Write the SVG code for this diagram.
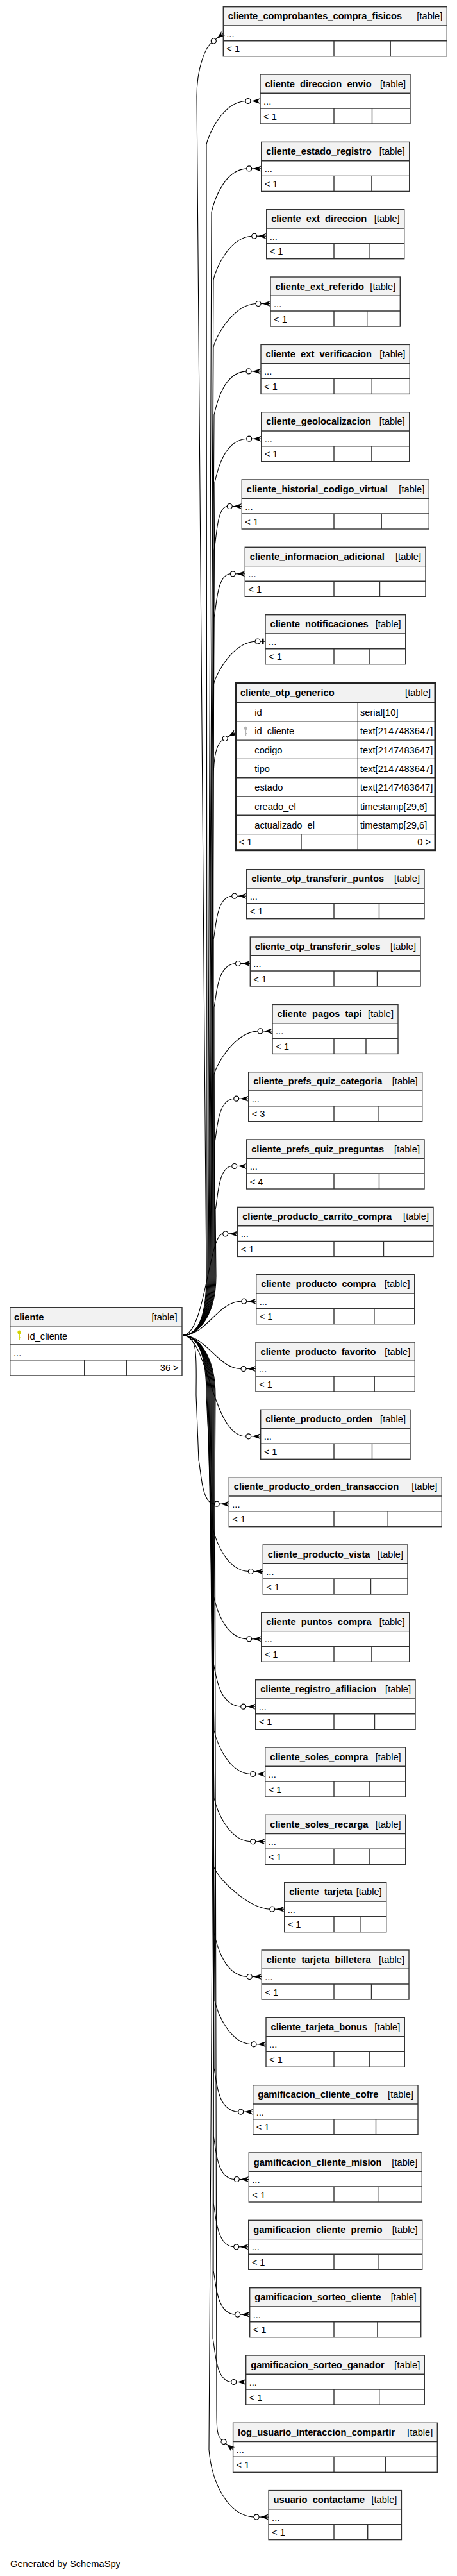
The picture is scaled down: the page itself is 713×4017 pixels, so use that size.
<svg xmlns="http://www.w3.org/2000/svg" width="713" height="4017" viewBox="0 0 713 4017">
<style>
.hd{fill:#f2f2f2}
.ob{fill:none;stroke:#333;stroke-width:1.4}
.ln{fill:none;stroke:#333;stroke-width:1.4}
.tt{font-family:"Liberation Sans",Arial,sans-serif;font-size:14.67px;font-weight:bold;fill:#000}
.tg{font-family:"Liberation Sans",Arial,sans-serif;font-size:14.67px;fill:#000;text-anchor:end}
.tx{font-family:"Liberation Sans",Arial,sans-serif;font-size:14.67px;fill:#000}
.ed{fill:none;stroke:#000;stroke-width:1.1}
</style>
<defs>
<g id="crow"><path d="M-15,0H0" stroke="#000" stroke-width="1.1"/><circle cx="-19" cy="0" r="4" fill="#fff" stroke="#000" stroke-width="1.2"/><path d="M-13,0L0,-4.5L-4,0L0,4.5Z" fill="#000"/></g>
<g id="tee"><path d="M-8,0H0" stroke="#000" stroke-width="1.1"/><circle cx="-12" cy="0" r="4" fill="#fff" stroke="#000" stroke-width="1.2"/><rect x="-5.5" y="-4.5" width="3" height="9" fill="#000"/></g>
</defs>
<rect width="713" height="4017" fill="#fff"/>
<g id="connectors">
<path class="ed" d="M285,2082.5 C310,2082.5 322,2050 322,1990 L307,150 C307,105 320.7,73.8 330.2,66.4"/>
<path class="ed" d="M285,2082.5 C310,2082.5 323,2050 323,1990 L322,225.5 C326,207.5 348,159.5 383,157.5"/>
<path class="ed" d="M285,2082.5 C310,2082.5 324,2050 324,1990 L330,330.9 C334,312.9 349.7,264.9 384.7,262.9"/>
<path class="ed" d="M285,2082.5 C310,2082.5 325,2050 325,1990 L333,436.2 C337,418.2 357.7,370.2 392.7,368.2"/>
<path class="ed" d="M285,2082.5 C310,2082.5 326,2050 326,1990 L333,541.5 C337,523.5 364,475.5 399,473.5"/>
<path class="ed" d="M285,2082.5 C310,2082.5 327,2050 327,1990 L334,646.9 C338,628.9 349,580.9 384,578.9"/>
<path class="ed" d="M285,2082.5 C310,2082.5 328,2050 328,1990 L335,752.2 C339,734.2 349.7,686.2 384.7,684.2"/>
<path class="ed" d="M285,2082.5 C310,2082.5 329,2050 329,1990 L334,857.5 C338,839.5 338,791.5 354.3,789.5"/>
<path class="ed" d="M285,2082.5 C310,2082.5 330,2050 330,1990 L334,962.8 C338,944.8 338,896.8 359.3,894.8"/>
<path class="ed" d="M285,2082.5 C310,2082.5 331,2050 331,1990 L333,1068.2 C337,1050.2 363,1002.2 398,1000.2"/>
<path class="ed" d="M285,2082.5 C310,2082.5 332,2050 332,1990 L333,1215 C333,1180 337.4,1159.5 347.8,1153.5"/>
<path class="ed" d="M285,2082.5 C310,2082.5 333,2050 333,1990 L333,1465.2 C337,1447.2 337,1399.2 361.7,1397.2"/>
<path class="ed" d="M285,2082.5 C310,2082.5 334,2050 334,1990 L334,1570.5 C338,1552.5 338,1504.5 367.3,1502.5"/>
<path class="ed" d="M285,2082.5 C310,2082.5 335,2050 335,1990 L334,1675.9 C338,1657.9 367,1609.9 402,1607.9"/>
<path class="ed" d="M285,2082.5 C310,2082.5 336,2050 336,1990 L335,1781.2 C339,1763.2 339,1715.2 364.7,1713.2"/>
<path class="ed" d="M285,2082.5 C310,2082.5 337,2050 337,1990 L336,1886.5 C340,1868.5 340,1820.5 361.7,1818.5"/>
<path class="ed" d="M285,2082.5 C320,2082.5 326,1923.9 347.7,1923.9"/>
<path class="ed" d="M285,2082.5 C322,2082.5 340,2029.2 376.7,2029.2"/>
<path class="ed" d="M285,2082.5 C322,2082.5 340,2134.5 376,2134.5"/>
<path class="ed" d="M285,2082.5 C325,2082.5 330,2239.8 383.7,2239.8"/>
<path class="ed" d="M285,2082.5 C310,2082.5 306,2116 306,2176 L310,2277.2 C314,2295.2 314,2343.2 334.3,2345.2"/>
<path class="ed" d="M285,2082.5 C310,2082.5 322,2116 322,2176 L332,2382.5 C336,2400.5 352.3,2448.5 387.3,2450.5"/>
<path class="ed" d="M285,2082.5 C310,2082.5 323,2116 323,2176 L333,2487.8 C337,2505.8 349.7,2553.8 384.7,2555.8"/>
<path class="ed" d="M285,2082.5 C310,2082.5 324,2116 324,2176 L333,2593.2 C337,2611.2 340.7,2659.2 375.7,2661.2"/>
<path class="ed" d="M285,2082.5 C310,2082.5 325,2116 325,2176 L334,2698.5 C338,2716.5 355.7,2764.5 390.7,2766.5"/>
<path class="ed" d="M285,2082.5 C310,2082.5 326,2116 326,2176 L334,2803.8 C338,2821.8 355.7,2869.8 390.7,2871.8"/>
<path class="ed" d="M285,2082.5 C310,2082.5 327,2116 327,2176 L333,2909.2 C337,2927.2 385.7,2975.2 420.7,2977.2"/>
<path class="ed" d="M285,2082.5 C310,2082.5 328,2116 328,2176 L334,3014.5 C338,3032.5 350.3,3080.5 385.3,3082.5"/>
<path class="ed" d="M285,2082.5 C310,2082.5 329,2116 329,2176 L335,3119.8 C339,3137.8 357,3185.8 392,3187.8"/>
<path class="ed" d="M285,2082.5 C310,2082.5 330,2116 330,2176 L334,3225.2 C338,3243.2 338,3291.2 371.7,3293.2"/>
<path class="ed" d="M285,2082.5 C310,2082.5 331,2116 331,2176 L333,3330.5 C337,3348.5 337,3396.5 365.3,3398.5"/>
<path class="ed" d="M285,2082.5 C310,2082.5 332,2116 332,2176 L333,3435.8 C337,3453.8 337,3501.8 364.7,3503.8"/>
<path class="ed" d="M285,2082.5 C310,2082.5 333,2116 333,2176 L333,3541.2 C337,3559.2 337,3607.2 366.7,3609.2"/>
<path class="ed" d="M285,2082.5 C310,2082.5 334,2116 334,2176 L332,3646.5 C336,3664.5 336,3712.5 360.7,3714.5"/>
<path class="ed" d="M285,2082.5 C310,2082.5 335,2116 335,2176 L338,3760 C338,3785 338.3,3798.6 346,3805"/>
<path class="ed" d="M285,2082.5 C310,2082.5 336,2116 336,2176 L326,3820 C330,3870 355,3923.1 396.1,3925.1"/>
<use href="#crow" transform="translate(348.3,52.2) rotate(-38)"/>
<use href="#crow" transform="translate(406,157.5)"/>
<use href="#crow" transform="translate(407.7,262.9)"/>
<use href="#crow" transform="translate(415.7,368.2)"/>
<use href="#crow" transform="translate(422,473.5)"/>
<use href="#crow" transform="translate(407,578.9)"/>
<use href="#crow" transform="translate(407.7,684.2)"/>
<use href="#crow" transform="translate(377.3,789.5)"/>
<use href="#crow" transform="translate(382.3,894.8)"/>
<use href="#tee" transform="translate(414,1000.2)"/>
<use href="#crow" transform="translate(367.7,1142) rotate(-30)"/>
<use href="#crow" transform="translate(384.7,1397.2)"/>
<use href="#crow" transform="translate(390.3,1502.5)"/>
<use href="#crow" transform="translate(425,1607.9)"/>
<use href="#crow" transform="translate(387.7,1713.2)"/>
<use href="#crow" transform="translate(384.7,1818.5)"/>
<use href="#crow" transform="translate(370.7,1923.9)"/>
<use href="#crow" transform="translate(399.7,2029.2)"/>
<use href="#crow" transform="translate(399,2134.5)"/>
<use href="#crow" transform="translate(406.7,2239.8)"/>
<use href="#crow" transform="translate(357.3,2345.2)"/>
<use href="#crow" transform="translate(410.3,2450.5)"/>
<use href="#crow" transform="translate(407.7,2555.8)"/>
<use href="#crow" transform="translate(398.7,2661.2)"/>
<use href="#crow" transform="translate(413.7,2766.5)"/>
<use href="#crow" transform="translate(413.7,2871.8)"/>
<use href="#crow" transform="translate(443.7,2977.2)"/>
<use href="#crow" transform="translate(408.3,3082.5)"/>
<use href="#crow" transform="translate(415,3187.8)"/>
<use href="#crow" transform="translate(394.7,3293.2)"/>
<use href="#crow" transform="translate(388.3,3398.5)"/>
<use href="#crow" transform="translate(387.7,3503.8)"/>
<use href="#crow" transform="translate(389.7,3609.2)"/>
<use href="#crow" transform="translate(383.7,3714.5)"/>
<use href="#crow" transform="translate(363.6,3819.8) rotate(40)"/>
<use href="#crow" transform="translate(419.1,3925.1)"/>
</g>
<g id="cliente">
<rect class="hd" x="15.7" y="2038.7" width="268.3" height="29"/>
<rect class="ob" x="15.7" y="2038.7" width="268.3" height="106.3"/>
<path class="ln" d="M15.7,2067.7H284M15.7,2097H284M15.7,2120.7H284M131.7,2120.7V2145M197.3,2120.7V2145"/>
<text class="tt" x="22" y="2058.5">cliente</text>
<text class="tg" x="276.5" y="2058.5">[table]</text>
<g fill="#d4d400"><ellipse cx="30" cy="2077.5" rx="2.6" ry="3"/><rect x="29.2" y="2079" width="1.7" height="11"/><rect x="30.5" y="2085.5" width="2" height="1.4"/></g>
<text class="tx" x="43.3" y="2088.7">id_cliente</text>
<text class="tx" x="21" y="2114.7">...</text>
<text class="tg" x="278.7" y="2138.3">36 &gt;</text>
</g>
<g id="cliente_otp_generico">
<rect class="hd" x="367.7" y="1065" width="311.3" height="30.5"/>
<path class="ln" d="M367.7,1095.5H679M367.7,1124.8H679M367.7,1154.1H679M367.7,1183.4H679M367.7,1212.7H679M367.7,1242H679M367.7,1271.3H679M367.7,1300.6H679M558.3,1095.5V1325.7M470,1300.6V1325.7"/>
<rect x="367.7" y="1065" width="311.3" height="260.7" fill="none" stroke="#222" stroke-width="3"/>
<text class="tt" x="375" y="1084.5">cliente_otp_generico</text>
<text class="tg" x="672" y="1084.5">[table]</text>
<g fill="#b4b4b4"><ellipse cx="383.3" cy="1135.5" rx="2.4" ry="2.8"/><rect x="382.5" y="1137" width="1.6" height="10.5"/><rect x="383.8" y="1143" width="1.8" height="1.3"/></g>
<text class="tx" x="397.3" y="1116">id</text>
<text class="tx" x="397.3" y="1145.3">id_cliente</text>
<text class="tx" x="397.3" y="1174.6">codigo</text>
<text class="tx" x="397.3" y="1203.9">tipo</text>
<text class="tx" x="397.3" y="1233.2">estado</text>
<text class="tx" x="397.3" y="1262.5">creado_el</text>
<text class="tx" x="397.3" y="1291.8">actualizado_el</text>
<text class="tx" x="562" y="1116">serial[10]</text>
<text class="tx" x="562" y="1145.3">text[2147483647]</text>
<text class="tx" x="562" y="1174.6">text[2147483647]</text>
<text class="tx" x="562" y="1203.9">text[2147483647]</text>
<text class="tx" x="562" y="1233.2">text[2147483647]</text>
<text class="tx" x="562" y="1262.5">timestamp[29,6]</text>
<text class="tx" x="562" y="1291.8">timestamp[29,6]</text>
<text class="tx" x="372.7" y="1318.1">&lt; 1</text>
<text class="tg" x="672" y="1318.1">0 &gt;</text>
</g>
<g id="cliente_comprobantes_compra_fisicos" transform="translate(348.3,10.7)"><rect class="hd" width="349" height="29.3"/><rect class="ob" width="349" height="77"/><path class="ln" d="M0,29.3H349M0,53H349M172.7,53V77M260.9,53V77"/><text class="tt" x="7.5" y="19.5">cliente_comprobantes_compra_fisicos</text><text class="tg" x="342" y="19.5">[table]</text><text class="tx" x="5" y="47">...</text><text class="tx" x="5" y="70.5">&lt; 1</text></g>
<g id="cliente_direccion_envio" transform="translate(406,116)"><rect class="hd" width="234" height="29.3"/><rect class="ob" width="234" height="77"/><path class="ln" d="M0,29.3H234M0,53H234M115,53V77M174.5,53V77"/><text class="tt" x="7.5" y="19.5">cliente_direccion_envio</text><text class="tg" x="227" y="19.5">[table]</text><text class="tx" x="5" y="47">...</text><text class="tx" x="5" y="70.5">&lt; 1</text></g>
<g id="cliente_estado_registro" transform="translate(407.7,221.4)"><rect class="hd" width="231" height="29.3"/><rect class="ob" width="231" height="77"/><path class="ln" d="M0,29.3H231M0,53H231M113.3,53V77M172.2,53V77"/><text class="tt" x="7.5" y="19.5">cliente_estado_registro</text><text class="tg" x="224" y="19.5">[table]</text><text class="tx" x="5" y="47">...</text><text class="tx" x="5" y="70.5">&lt; 1</text></g>
<g id="cliente_ext_direccion" transform="translate(415.7,326.7)"><rect class="hd" width="215" height="29.3"/><rect class="ob" width="215" height="77"/><path class="ln" d="M0,29.3H215M0,53H215M105.3,53V77M160.2,53V77"/><text class="tt" x="7.5" y="19.5">cliente_ext_direccion</text><text class="tg" x="208" y="19.5">[table]</text><text class="tx" x="5" y="47">...</text><text class="tx" x="5" y="70.5">&lt; 1</text></g>
<g id="cliente_ext_referido" transform="translate(422,432)"><rect class="hd" width="202.3" height="29.3"/><rect class="ob" width="202.3" height="77"/><path class="ln" d="M0,29.3H202.3M0,53H202.3M99,53V77M150.7,53V77"/><text class="tt" x="7.5" y="19.5">cliente_ext_referido</text><text class="tg" x="195.3" y="19.5">[table]</text><text class="tx" x="5" y="47">...</text><text class="tx" x="5" y="70.5">&lt; 1</text></g>
<g id="cliente_ext_verificacion" transform="translate(407,537.4)"><rect class="hd" width="232.3" height="29.3"/><rect class="ob" width="232.3" height="77"/><path class="ln" d="M0,29.3H232.3M0,53H232.3M114,53V77M173.2,53V77"/><text class="tt" x="7.5" y="19.5">cliente_ext_verificacion</text><text class="tg" x="225.3" y="19.5">[table]</text><text class="tx" x="5" y="47">...</text><text class="tx" x="5" y="70.5">&lt; 1</text></g>
<g id="cliente_geolocalizacion" transform="translate(407.7,642.7)"><rect class="hd" width="231" height="29.3"/><rect class="ob" width="231" height="77"/><path class="ln" d="M0,29.3H231M0,53H231M113.3,53V77M172.2,53V77"/><text class="tt" x="7.5" y="19.5">cliente_geolocalizacion</text><text class="tg" x="224" y="19.5">[table]</text><text class="tx" x="5" y="47">...</text><text class="tx" x="5" y="70.5">&lt; 1</text></g>
<g id="cliente_historial_codigo_virtual" transform="translate(377.3,748)"><rect class="hd" width="292" height="29.3"/><rect class="ob" width="292" height="77"/><path class="ln" d="M0,29.3H292M0,53H292M143.7,53V77M217.9,53V77"/><text class="tt" x="7.5" y="19.5">cliente_historial_codigo_virtual</text><text class="tg" x="285" y="19.5">[table]</text><text class="tx" x="5" y="47">...</text><text class="tx" x="5" y="70.5">&lt; 1</text></g>
<g id="cliente_informacion_adicional" transform="translate(382.3,853.3)"><rect class="hd" width="281.7" height="29.3"/><rect class="ob" width="281.7" height="77"/><path class="ln" d="M0,29.3H281.7M0,53H281.7M138.7,53V77M210.2,53V77"/><text class="tt" x="7.5" y="19.5">cliente_informacion_adicional</text><text class="tg" x="274.7" y="19.5">[table]</text><text class="tx" x="5" y="47">...</text><text class="tx" x="5" y="70.5">&lt; 1</text></g>
<g id="cliente_notificaciones" transform="translate(414,958.7)"><rect class="hd" width="218.7" height="29.3"/><rect class="ob" width="218.7" height="77"/><path class="ln" d="M0,29.3H218.7M0,53H218.7M107,53V77M162.9,53V77"/><text class="tt" x="7.5" y="19.5">cliente_notificaciones</text><text class="tg" x="211.7" y="19.5">[table]</text><text class="tx" x="5" y="47">...</text><text class="tx" x="5" y="70.5">&lt; 1</text></g>
<g id="cliente_otp_transferir_puntos" transform="translate(384.7,1355.7)"><rect class="hd" width="277.3" height="29.3"/><rect class="ob" width="277.3" height="77"/><path class="ln" d="M0,29.3H277.3M0,53H277.3M136.3,53V77M206.8,53V77"/><text class="tt" x="7.5" y="19.5">cliente_otp_transferir_puntos</text><text class="tg" x="270.3" y="19.5">[table]</text><text class="tx" x="5" y="47">...</text><text class="tx" x="5" y="70.5">&lt; 1</text></g>
<g id="cliente_otp_transferir_soles" transform="translate(390.3,1461)"><rect class="hd" width="265.7" height="29.3"/><rect class="ob" width="265.7" height="77"/><path class="ln" d="M0,29.3H265.7M0,53H265.7M130.7,53V77M198.2,53V77"/><text class="tt" x="7.5" y="19.5">cliente_otp_transferir_soles</text><text class="tg" x="258.7" y="19.5">[table]</text><text class="tx" x="5" y="47">...</text><text class="tx" x="5" y="70.5">&lt; 1</text></g>
<g id="cliente_pagos_tapi" transform="translate(425,1566.4)"><rect class="hd" width="196" height="29.3"/><rect class="ob" width="196" height="77"/><path class="ln" d="M0,29.3H196M0,53H196M96,53V77M146,53V77"/><text class="tt" x="7.5" y="19.5">cliente_pagos_tapi</text><text class="tg" x="189" y="19.5">[table]</text><text class="tx" x="5" y="47">...</text><text class="tx" x="5" y="70.5">&lt; 1</text></g>
<g id="cliente_prefs_quiz_categoria" transform="translate(387.7,1671.7)"><rect class="hd" width="271" height="29.3"/><rect class="ob" width="271" height="77"/><path class="ln" d="M0,29.3H271M0,53H271M133.3,53V77M202.2,53V77"/><text class="tt" x="7.5" y="19.5">cliente_prefs_quiz_categoria</text><text class="tg" x="264" y="19.5">[table]</text><text class="tx" x="5" y="47">...</text><text class="tx" x="5" y="70.5">&lt; 3</text></g>
<g id="cliente_prefs_quiz_preguntas" transform="translate(384.7,1777)"><rect class="hd" width="277.3" height="29.3"/><rect class="ob" width="277.3" height="77"/><path class="ln" d="M0,29.3H277.3M0,53H277.3M136.3,53V77M206.8,53V77"/><text class="tt" x="7.5" y="19.5">cliente_prefs_quiz_preguntas</text><text class="tg" x="270.3" y="19.5">[table]</text><text class="tx" x="5" y="47">...</text><text class="tx" x="5" y="70.5">&lt; 4</text></g>
<g id="cliente_producto_carrito_compra" transform="translate(370.7,1882.4)"><rect class="hd" width="305.3" height="29.3"/><rect class="ob" width="305.3" height="77"/><path class="ln" d="M0,29.3H305.3M0,53H305.3M150.3,53V77M227.8,53V77"/><text class="tt" x="7.5" y="19.5">cliente_producto_carrito_compra</text><text class="tg" x="298.3" y="19.5">[table]</text><text class="tx" x="5" y="47">...</text><text class="tx" x="5" y="70.5">&lt; 1</text></g>
<g id="cliente_producto_compra" transform="translate(399.7,1987.7)"><rect class="hd" width="247" height="29.3"/><rect class="ob" width="247" height="77"/><path class="ln" d="M0,29.3H247M0,53H247M121.3,53V77M184.2,53V77"/><text class="tt" x="7.5" y="19.5">cliente_producto_compra</text><text class="tg" x="240" y="19.5">[table]</text><text class="tx" x="5" y="47">...</text><text class="tx" x="5" y="70.5">&lt; 1</text></g>
<g id="cliente_producto_favorito" transform="translate(399,2093)"><rect class="hd" width="248.3" height="29.3"/><rect class="ob" width="248.3" height="77"/><path class="ln" d="M0,29.3H248.3M0,53H248.3M122,53V77M185.2,53V77"/><text class="tt" x="7.5" y="19.5">cliente_producto_favorito</text><text class="tg" x="241.3" y="19.5">[table]</text><text class="tx" x="5" y="47">...</text><text class="tx" x="5" y="70.5">&lt; 1</text></g>
<g id="cliente_producto_orden" transform="translate(406.7,2198.3)"><rect class="hd" width="233.3" height="29.3"/><rect class="ob" width="233.3" height="77"/><path class="ln" d="M0,29.3H233.3M0,53H233.3M114.3,53V77M173.8,53V77"/><text class="tt" x="7.5" y="19.5">cliente_producto_orden</text><text class="tg" x="226.3" y="19.5">[table]</text><text class="tx" x="5" y="47">...</text><text class="tx" x="5" y="70.5">&lt; 1</text></g>
<g id="cliente_producto_orden_transaccion" transform="translate(357.3,2303.7)"><rect class="hd" width="332" height="29.3"/><rect class="ob" width="332" height="77"/><path class="ln" d="M0,29.3H332M0,53H332M163.7,53V77M247.9,53V77"/><text class="tt" x="7.5" y="19.5">cliente_producto_orden_transaccion</text><text class="tg" x="325" y="19.5">[table]</text><text class="tx" x="5" y="47">...</text><text class="tx" x="5" y="70.5">&lt; 1</text></g>
<g id="cliente_producto_vista" transform="translate(410.3,2409)"><rect class="hd" width="225.7" height="29.3"/><rect class="ob" width="225.7" height="77"/><path class="ln" d="M0,29.3H225.7M0,53H225.7M110.7,53V77M168.2,53V77"/><text class="tt" x="7.5" y="19.5">cliente_producto_vista</text><text class="tg" x="218.7" y="19.5">[table]</text><text class="tx" x="5" y="47">...</text><text class="tx" x="5" y="70.5">&lt; 1</text></g>
<g id="cliente_puntos_compra" transform="translate(407.7,2514.3)"><rect class="hd" width="231" height="29.3"/><rect class="ob" width="231" height="77"/><path class="ln" d="M0,29.3H231M0,53H231M113.3,53V77M172.2,53V77"/><text class="tt" x="7.5" y="19.5">cliente_puntos_compra</text><text class="tg" x="224" y="19.5">[table]</text><text class="tx" x="5" y="47">...</text><text class="tx" x="5" y="70.5">&lt; 1</text></g>
<g id="cliente_registro_afiliacion" transform="translate(398.7,2619.7)"><rect class="hd" width="249.3" height="29.3"/><rect class="ob" width="249.3" height="77"/><path class="ln" d="M0,29.3H249.3M0,53H249.3M122.3,53V77M185.8,53V77"/><text class="tt" x="7.5" y="19.5">cliente_registro_afiliacion</text><text class="tg" x="242.3" y="19.5">[table]</text><text class="tx" x="5" y="47">...</text><text class="tx" x="5" y="70.5">&lt; 1</text></g>
<g id="cliente_soles_compra" transform="translate(413.7,2725)"><rect class="hd" width="219" height="29.3"/><rect class="ob" width="219" height="77"/><path class="ln" d="M0,29.3H219M0,53H219M107.3,53V77M163.2,53V77"/><text class="tt" x="7.5" y="19.5">cliente_soles_compra</text><text class="tg" x="212" y="19.5">[table]</text><text class="tx" x="5" y="47">...</text><text class="tx" x="5" y="70.5">&lt; 1</text></g>
<g id="cliente_soles_recarga" transform="translate(413.7,2830.3)"><rect class="hd" width="219" height="29.3"/><rect class="ob" width="219" height="77"/><path class="ln" d="M0,29.3H219M0,53H219M107.3,53V77M163.2,53V77"/><text class="tt" x="7.5" y="19.5">cliente_soles_recarga</text><text class="tg" x="212" y="19.5">[table]</text><text class="tx" x="5" y="47">...</text><text class="tx" x="5" y="70.5">&lt; 1</text></g>
<g id="cliente_tarjeta" transform="translate(443.7,2935.7)"><rect class="hd" width="159" height="29.3"/><rect class="ob" width="159" height="77"/><path class="ln" d="M0,29.3H159M0,53H159M77.3,53V77M118.2,53V77"/><text class="tt" x="7.5" y="19.5">cliente_tarjeta</text><text class="tg" x="152" y="19.5">[table]</text><text class="tx" x="5" y="47">...</text><text class="tx" x="5" y="70.5">&lt; 1</text></g>
<g id="cliente_tarjeta_billetera" transform="translate(408.3,3041)"><rect class="hd" width="229.7" height="29.3"/><rect class="ob" width="229.7" height="77"/><path class="ln" d="M0,29.3H229.7M0,53H229.7M112.7,53V77M171.2,53V77"/><text class="tt" x="7.5" y="19.5">cliente_tarjeta_billetera</text><text class="tg" x="222.7" y="19.5">[table]</text><text class="tx" x="5" y="47">...</text><text class="tx" x="5" y="70.5">&lt; 1</text></g>
<g id="cliente_tarjeta_bonus" transform="translate(415,3146.3)"><rect class="hd" width="216.3" height="29.3"/><rect class="ob" width="216.3" height="77"/><path class="ln" d="M0,29.3H216.3M0,53H216.3M106,53V77M161.2,53V77"/><text class="tt" x="7.5" y="19.5">cliente_tarjeta_bonus</text><text class="tg" x="209.3" y="19.5">[table]</text><text class="tx" x="5" y="47">...</text><text class="tx" x="5" y="70.5">&lt; 1</text></g>
<g id="gamificacion_cliente_cofre" transform="translate(394.7,3251.7)"><rect class="hd" width="257.3" height="29.3"/><rect class="ob" width="257.3" height="77"/><path class="ln" d="M0,29.3H257.3M0,53H257.3M126.3,53V77M191.8,53V77"/><text class="tt" x="7.5" y="19.5">gamificacion_cliente_cofre</text><text class="tg" x="250.3" y="19.5">[table]</text><text class="tx" x="5" y="47">...</text><text class="tx" x="5" y="70.5">&lt; 1</text></g>
<g id="gamificacion_cliente_mision" transform="translate(388.3,3357)"><rect class="hd" width="270" height="29.3"/><rect class="ob" width="270" height="77"/><path class="ln" d="M0,29.3H270M0,53H270M132.7,53V77M201.4,53V77"/><text class="tt" x="7.5" y="19.5">gamificacion_cliente_mision</text><text class="tg" x="263" y="19.5">[table]</text><text class="tx" x="5" y="47">...</text><text class="tx" x="5" y="70.5">&lt; 1</text></g>
<g id="gamificacion_cliente_premio" transform="translate(387.7,3462.3)"><rect class="hd" width="271" height="29.3"/><rect class="ob" width="271" height="77"/><path class="ln" d="M0,29.3H271M0,53H271M133.3,53V77M202.2,53V77"/><text class="tt" x="7.5" y="19.5">gamificacion_cliente_premio</text><text class="tg" x="264" y="19.5">[table]</text><text class="tx" x="5" y="47">...</text><text class="tx" x="5" y="70.5">&lt; 1</text></g>
<g id="gamificacion_sorteo_cliente" transform="translate(389.7,3567.7)"><rect class="hd" width="267" height="29.3"/><rect class="ob" width="267" height="77"/><path class="ln" d="M0,29.3H267M0,53H267M131.3,53V77M199.2,53V77"/><text class="tt" x="7.5" y="19.5">gamificacion_sorteo_cliente</text><text class="tg" x="260" y="19.5">[table]</text><text class="tx" x="5" y="47">...</text><text class="tx" x="5" y="70.5">&lt; 1</text></g>
<g id="gamificacion_sorteo_ganador" transform="translate(383.7,3673)"><rect class="hd" width="278.6" height="29.3"/><rect class="ob" width="278.6" height="77"/><path class="ln" d="M0,29.3H278.6M0,53H278.6M137.3,53V77M208,53V77"/><text class="tt" x="7.5" y="19.5">gamificacion_sorteo_ganador</text><text class="tg" x="271.6" y="19.5">[table]</text><text class="tx" x="5" y="47">...</text><text class="tx" x="5" y="70.5">&lt; 1</text></g>
<g id="log_usuario_interaccion_compartir" transform="translate(363.6,3778.3)"><rect class="hd" width="318.7" height="29.3"/><rect class="ob" width="318.7" height="77"/><path class="ln" d="M0,29.3H318.7M0,53H318.7M157.4,53V77M238.1,53V77"/><text class="tt" x="7.5" y="19.5">log_usuario_interaccion_compartir</text><text class="tg" x="311.7" y="19.5">[table]</text><text class="tx" x="5" y="47">...</text><text class="tx" x="5" y="70.5">&lt; 1</text></g>
<g id="usuario_contactame" transform="translate(419.1,3883.6)"><rect class="hd" width="207.3" height="29.3"/><rect class="ob" width="207.3" height="77"/><path class="ln" d="M0,29.3H207.3M0,53H207.3M101.9,53V77M154.6,53V77"/><text class="tt" x="7.5" y="19.5">usuario_contactame</text><text class="tg" x="200.3" y="19.5">[table]</text><text class="tx" x="5" y="47">...</text><text class="tx" x="5" y="70.5">&lt; 1</text></g>
<text class="tx" x="16" y="4003.3" fill="#222">Generated by SchemaSpy</text>
</svg>
